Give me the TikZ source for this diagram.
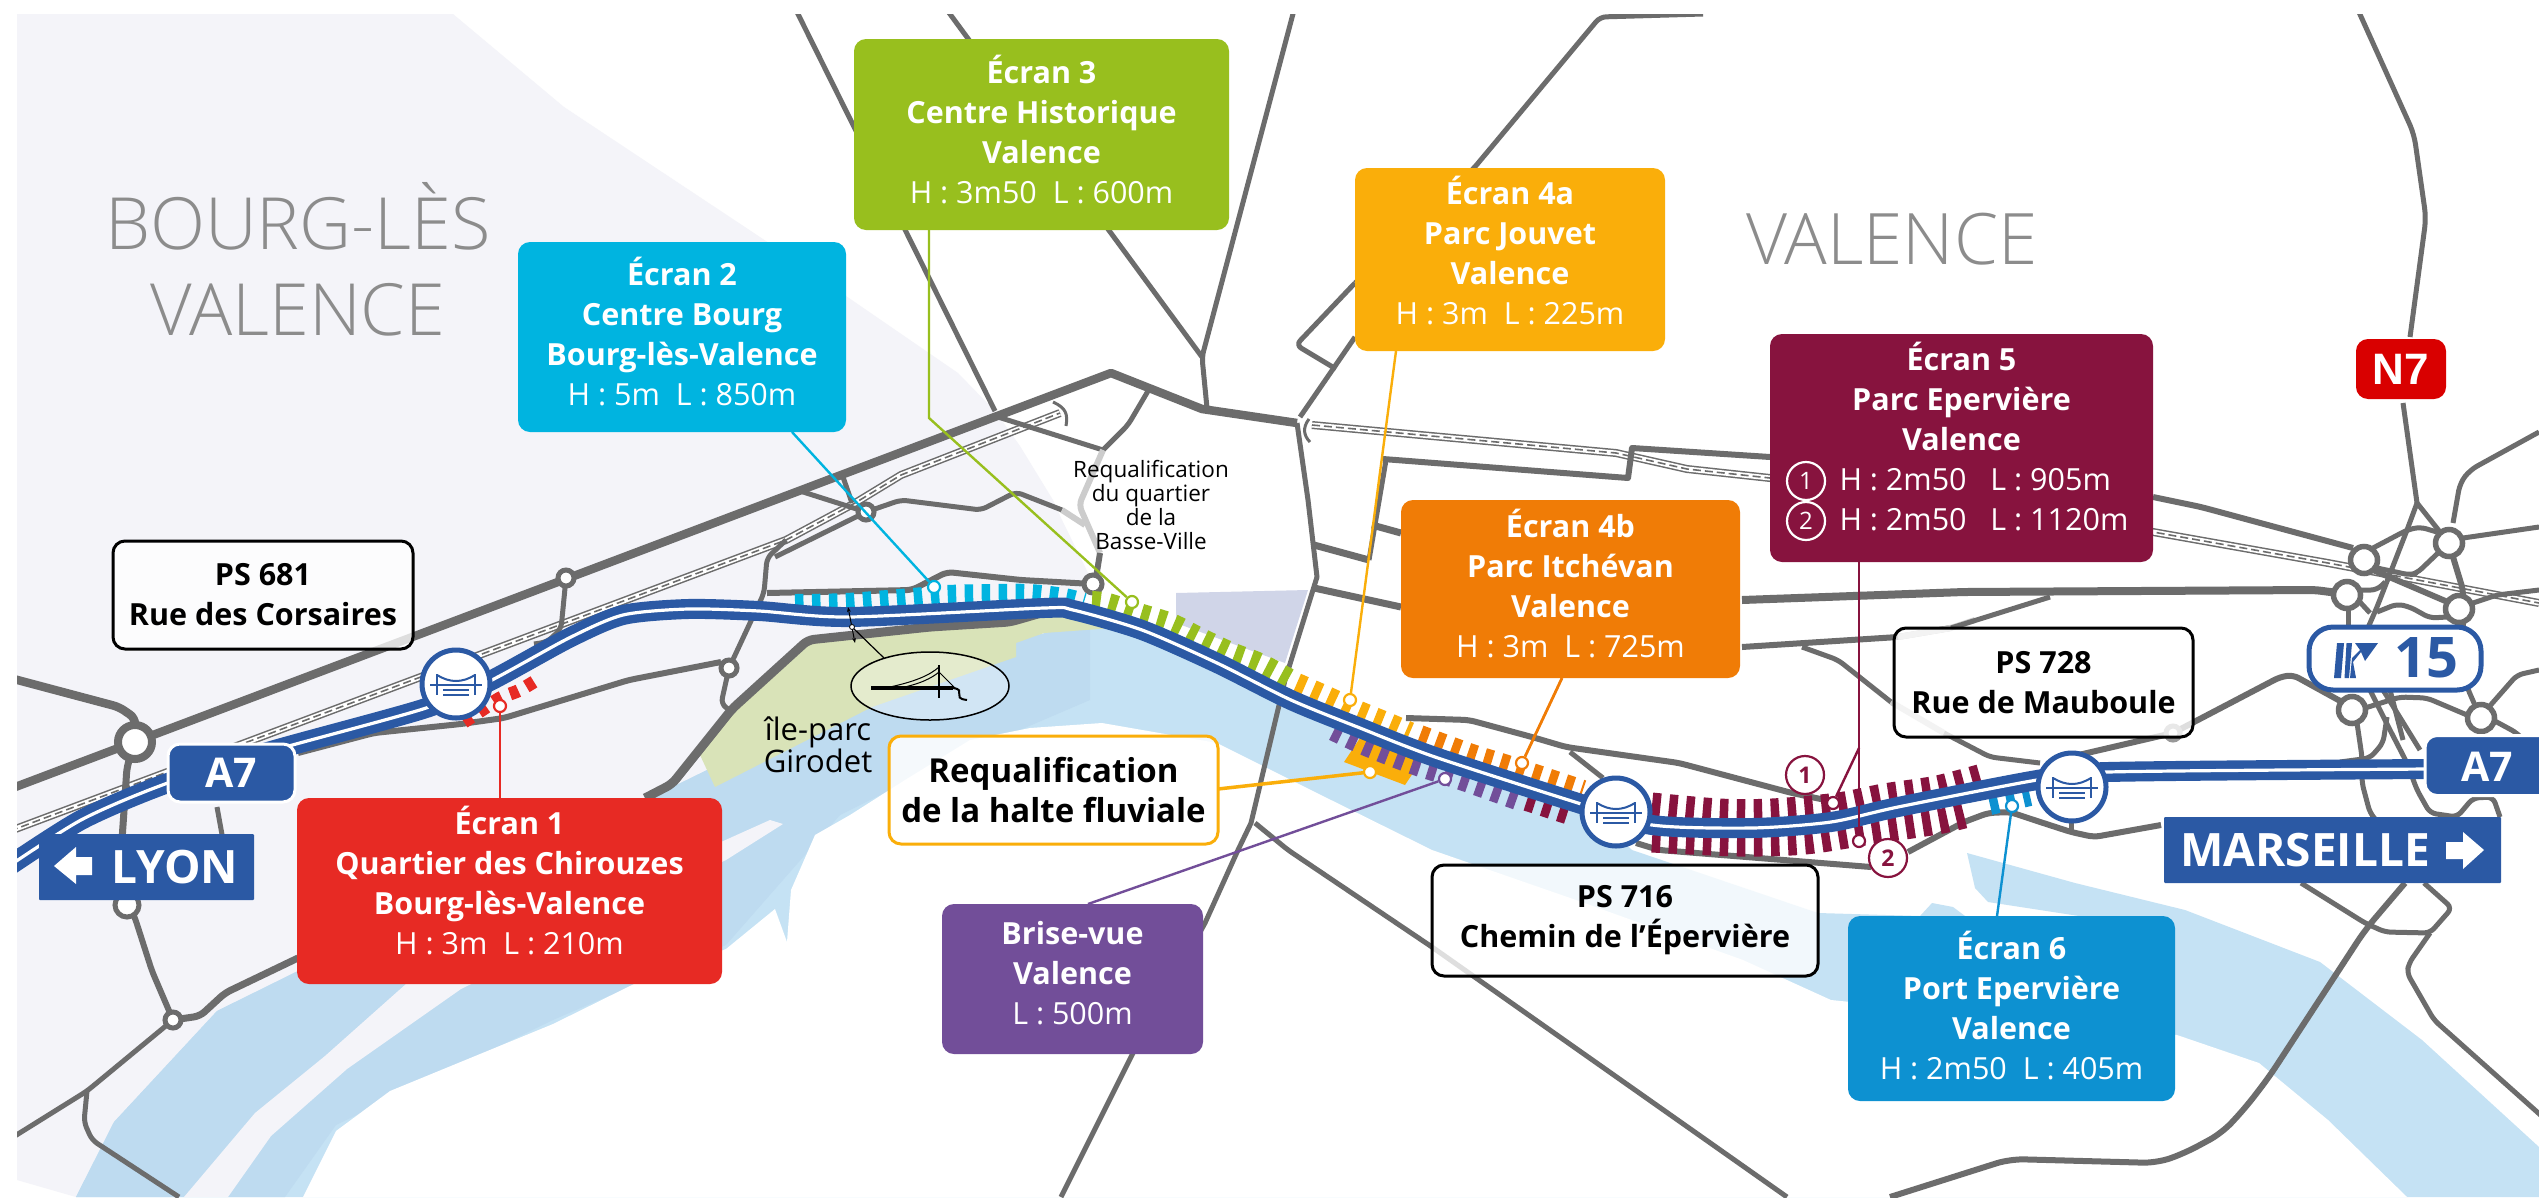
\documentclass[tikz,border=0pt]{standalone}
\usepackage{fontspec}
\setmainfont{Open Sans}
\newfontfamily\lightf{Open Sans Light}
\usetikzlibrary{arrows.meta,shapes.geometric}
\definecolor{cbg}{HTML}{F4F4F9}
\definecolor{criv}{HTML}{C5E2F4}
\definecolor{crivd}{HTML}{BEDBF0}
\definecolor{cpark}{HTML}{D9E3B8}
\definecolor{clav}{HTML}{D0D5E8}
\definecolor{cgray}{HTML}{6C6C6C}
\definecolor{cblue}{HTML}{2B59A4}
\definecolor{cred}{HTML}{E72A24}
\definecolor{ccyan}{HTML}{00B4E0}
\definecolor{cgreen}{HTML}{98BF1E}
\definecolor{camber}{HTML}{FAAE0A}
\definecolor{corange}{HTML}{F07C06}
\definecolor{cwine}{HTML}{87133E}
\definecolor{csix}{HTML}{0D91D1}
\definecolor{cpurple}{HTML}{724E99}
\definecolor{ctxt}{HTML}{8C8C8C}
\tikzset{
 road/.style={draw=cgray,line width=5,line join=round,rounded corners=6,fill=none},
 thick road/.style={road,line width=8.5},
 pale road/.style={road,draw=cgray!35,line width=6},
 ring/.style={circle,draw=cgray,fill=white,line width=5,inner sep=0,minimum size=16},
 rail/.style={draw=cgray,line width=8,postaction={draw=white,line width=5},postaction={draw=cgray,line width=1.6,dash pattern=on 8 off 4}},
 motorway/.style={draw=cblue,line width=20,postaction={draw=white,line width=3.2}},
 ticks/.style={line width=20,dash pattern=on 8.5 off 8.5},
 infobox/.style={rectangle,rounded corners=12,inner sep=0,text=white,align=center,font=\fontsize{30.5}{40}\selectfont},
 psbox/.style={rectangle,rounded corners=12,inner sep=0,draw=black,line width=3,fill=white,fill opacity=.78,text opacity=1,text=black,align=center,font=\bfseries\fontsize{30.5}{40}\selectfont},
 signbox/.style={rectangle,rounded corners=1,inner sep=0,fill=cblue,text=white,font=\bfseries},
 dot/.style={circle,draw=#1,fill=white,line width=2.2,inner sep=0,minimum size=12},
 conn/.style={draw=#1,line width=2.4},
 numc/.style={circle,draw=cwine,fill=white,text=cwine,line width=2.2,inner sep=0,minimum size=38,font=\fontsize{23}{23}\selectfont\bfseries},
 numw/.style={circle,draw=white,text=white,line width=2.2,inner sep=0,minimum size=38,font=\fontsize{24}{24}\selectfont},
 bridgec/.style={circle,draw=cblue,fill=white,line width=5,inner sep=0,minimum size=68},
}
\newcommand{\bridgeicon}[1]{%
 \begin{scope}[shift={(#1)},draw=cblue,line width=2]
  \draw (-19,-10) -- (-19,11); \draw (19,-10) -- (19,11);
  \draw (-19,-9) .. controls (-6,-1) and (6,-1) .. (19,-9);
  \draw (-26,1) -- (26,1);
  \draw (-13,6) -- (13,6); \draw (-13,11) -- (13,11);
 \end{scope}}
\begin{document}
\begin{tikzpicture}[x=1pt,y=-1pt]
\useasboundingbox (0,0) rectangle (2539,1197);
\fill[white] (0,0) rectangle (2539,1197);
\clip (17,14) rectangle (2539,1197);
% territory of Bourg
\fill[cbg] (17,14) -- (453,14) -- (564,107) -- (763,239) -- (846,296) -- (958,373) -- (995,411) -- (1020,446) -- (1053,500) -- (1062,520) -- (1093,583) -- (1079,610) -- (700,800) -- (76,1197) -- (17,1180) -- cycle;
% river
\fill[criv] (76,1197) -- (114,1122) -- (217,1011) -- (298,971) -- (650,798) -- (850,700) -- (1016,640) -- (1113,620) -- (1142,630) -- (1217,663) -- (1285,693) -- (1406,743) -- (1578,797) -- (1632,850) -- (1818,913) -- (1920,916) -- (1932,903) -- (1953,907) -- (1965,916) -- (2079,916) -- (1988,902) -- (1975,888) -- (1967,853) -- (2075,883) -- (2185,910) -- (2320,962) -- (2422,1040) -- (2539,1147) -- (2539,1197) -- cycle;
\fill[crivd] (76,1197) -- (114,1122) -- (217,1011) -- (298,971) -- (650,798) -- (850,700) -- (1016,640) -- (1090,622) -- (1090,700) -- (950,760) -- (840,815) -- (726,945) -- (553,1020) -- (336,1125) -- (285,1197) -- cycle;
% sliver island
\fill[cbg] (184,1197) -- (255,1113) -- (325,1056) -- (406,984) -- (721,842) -- (770,820) -- (783,824) -- (726,860) -- (461,989) -- (347,1069) -- (271,1136) -- (228,1197) -- cycle;
% white land
\fill[white] (303,1197) -- (336,1131) -- (390,1091) -- (553,1024) -- (634,984) -- (726,949) -- (775,909) -- (787,942) -- (791,890) -- (815,835) -- (850,815) -- (905,780) -- (970,740) -- (1030,728) -- (1102,723) -- (1217,743) -- (1331,800) -- (1432,850) -- (1576,900) -- (1743,960) -- (1831,1000) -- (2177,1035) -- (2259,1063) -- (2328,1120) -- (2407,1197) -- cycle;
% park and lavender patch
\fill[cpark] (700,755) -- (732,709) -- (808,640) -- (930,627) -- (1010,622) -- (1075,612) -- (1113,628) -- (1044,633) -- (1016,643) -- (1016,657) -- (872,707) -- (715,787) -- cycle;
\fill[clav] (1176,593) -- (1308,590) -- (1285,663) -- (1176,623) -- cycle;
% railways
\draw[rail] (10,831) -- (786,540) -- (855,503) -- (901,475) -- (1060,413);
\draw[cgray,line width=3] (1053,402) .. controls (1066,408) and (1068,414) .. (1066,426);
\draw[rail] (1312,425) -- (1616,453) -- (1687,469) -- (1770,478) -- (2153,532) -- (2328,563) -- (2539,603);
\draw[cgray,line width=3] (1309,419) .. controls (1302,428) and (1304,436) .. (1310,442);
% roads - left side
\draw[thick road,rounded corners=0] (10,789) -- (1111,373) -- (1202,409) -- (1297,423);
\draw[thick road] (10,678) -- (119,707) -- (135,718) -- (135,742);
\draw[road,line width=7] (135,742) -- (127,767) -- (122,840);
\draw[road,line width=6] (127,900) -- (135,918) -- (152,971) -- (173,1020);
\draw[thick road,line width=7] (173,1020) -- (200,1016) -- (225,993) -- (298,958);
\draw[road] (10,1139) -- (87,1091) -- (173,1020);
\draw[road] (87,1091) -- (84,1122) -- (92,1140) -- (179,1197);
\draw[road] (217,807) -- (223,840);
\draw[road,line width=6] (298,753) -- (374,733) -- (461,724) -- (504,718) -- (629,680) -- (721,662);
\draw[road] (729,668) -- (764,593) -- (767,558) -- (786,540);
\draw[road] (729,668) -- (721,704) -- (734,713);
\draw[road] (566,578) -- (561,629) -- (547,642) -- (534,644);
\draw[thick road,line width=9] (645,798) -- (672,784) -- (732,709) -- (808,640) -- (930,627) -- (1010,622) -- (1062,607);
\draw[road,line width=6] (767,593) -- (912,590) -- (947,572) -- (1021,580) -- (1093,584);
\draw[road] (800,491) -- (866,512);
\draw[road] (843,477) -- (852,503);
\draw[road] (866,512) -- (901,500) -- (981,510) -- (1016,492) -- (1062,510);
\draw[road] (866,512) -- (775,557);
\draw[road] (998,417) -- (1103,450);
\draw[road] (1148,391) -- (1128,425) -- (1103,450);
\draw[pale road] (1103,450) -- (1079,505) -- (1100,553);
\draw[pale road] (1062,510) -- (1085,525);
\draw[road,line width=6] (1100,553) -- (1095,584);
\draw[road] (796,10) -- (995,411);
\draw[road] (947,10) -- (1202,357);
\draw[road] (1294,10) -- (1202,357) -- (1207,408);
% centre
\draw[road,rounded corners=0] (1297,423) -- (1308,500) -- (1317,577) -- (1285,680) -- (1251,823) -- (1238,850) -- (1205,923) -- (1133,1053) -- (1061,1197);
\draw[road] (1255,823) -- (1288,850) -- (1432,947) -- (1787,1197);
\draw[road] (1703,14) -- (1600,17) -- (1474,168) -- (1355,283);
\draw[road] (1355,283) -- (1296,345) -- (1336,369);
\draw[road] (1355,337) -- (1300,417);
\draw[road,rounded corners=0] (1386,460) -- (1369,560);
\draw[thick road,line width=7,rounded corners=0] (1314,545) -- (1369,560);
\draw[thick road,line width=7,rounded corners=0] (1372,525) -- (1401,533);
\draw[thick road,line width=7,rounded corners=0] (1314,588) -- (1401,607);
\draw[road,line width=6,rounded corners=0] (1383,459) -- (1628,478) -- (1632,448) -- (1770,457);
\draw[road,line width=6] (2153,497) -- (2201,507) -- (2353,548);
\draw[thick road,line width=8] (1742,600) -- (1964,592) -- (2315,590) -- (2338,593);
\draw[road,line width=6] (1742,647) -- (1898,637) -- (1951,628);
\draw[pale road] (1898,637) -- (1951,628) -- (1975,620);
\draw[road] (1951,628) -- (2050,597);
\draw[road] (1802,647) -- (1838,660) -- (1891,702);
\draw[pale road] (1891,702) -- (1944,733);
\draw[road] (1944,733) -- (1990,757) -- (2040,763);
\draw[road,line width=6] (2057,760) -- (2173,733) -- (2280,677) -- (2293,675) -- (2342,702);
\draw[road,line width=6] (1406,718) -- (1469,720) -- (1532,737) -- (1566,747) -- (1679,763) -- (1792,793) -- (1835,802);
\draw[road] (1570,752) -- (1603,778);
\draw[road,line width=6] (1636,843) -- (1659,850) -- (1871,867);
\draw[road,line width=6] (1908,852) -- (1964,822) -- (1988,813) -- (2010,812) -- (2034,820) -- (2071,832) -- (2094,837) -- (2161,825);
\draw[road] (2071,820) -- (2071,832);
% right network
\draw[road,rounded corners=10] (2358,10) -- (2414,134) -- (2426,218) -- (2410,337);
\draw[road,rounded corners=3] (2403,403) -- (2417,503);
\draw[road,rounded corners=3] (2417,503) -- (2440,532);
\draw[road] (2417,503) -- (2407,530) -- (2377,607) -- (2367,630);
\draw[road] (2373,548) -- (2407,530) -- (2420,527) -- (2437,532);
\draw[road] (2438,553) -- (2417,573) -- (2410,575) -- (2377,568);
\draw[road] (2463,538) -- (2539,527);
\draw[road,rounded corners=8] (2453,523) -- (2460,483) -- (2470,470) -- (2539,432);
\draw[road,line width=6] (2453,557) -- (2463,590) -- (2463,605);
\draw[road,line width=6,rounded corners=3] (2373,570) -- (2450,603);
\draw[road] (2358,590) -- (2377,590) -- (2385,582);
\draw[road] (2358,600) -- (2370,613);
\draw[road] (2377,612) -- (2397,604) -- (2410,607) -- (2430,618) -- (2447,617);
\draw[road] (2473,603) -- (2497,595) -- (2539,590);
\draw[road] (2348,607) -- (2348,630);
\draw[road] (2463,620) -- (2467,687) -- (2477,710);
\draw[road] (2370,690) -- (2390,730) -- (2407,763) -- (2417,790) -- (2430,813) -- (2457,817) -- (2473,798) -- (2493,797) -- (2500,817);
\draw[road] (2383,690) -- (2420,750);
\draw[road] (2390,690) -- (2403,740);
\draw[road] (2387,717) -- (2383,743) -- (2370,758) -- (2340,762);
\draw[road] (2365,708) -- (2400,697) -- (2427,698) -- (2467,715);
\draw[road] (2357,723) -- (2362,757) -- (2362,783) -- (2370,813) -- (2376,820);
\draw[road] (2488,708) -- (2517,675) -- (2539,670);
\draw[road] (2493,720) -- (2517,733) -- (2525,742);
% below the Marseille sign
\draw[road] (2301,883) -- (2365,923) -- (2385,932) -- (2430,933) -- (2452,908) -- (2424,883);
\draw[road,line width=6,rounded corners=14] (2405,883) -- (2365,930) -- (2269,1077) -- (2246,1107) -- (2222,1133) -- (2185,1153) -- (2157,1163) -- (2010,1159) -- (1890,1197);
\draw[road] (2430,933) -- (2409,963) -- (2407,973) -- (2434,1020) -- (2545,1119);
% junction rings
\node[ring,line width=8,minimum size=34] (j0) at (135,742) {};
\node[ring] (j1) at (173,1020) {};
\node[ring] (j2) at (566,578) {};
\node[ring] (j3) at (729,668) {};
\node[ring,minimum size=18] (j4) at (1093,584) {};
\node[ring] (j5) at (866,512) {};
\node[ring,draw=cgray!70,minimum size=14] (j6) at (2173,733) {};
\node[ring,line width=5.5,minimum size=27] (j7) at (2364,560) {};
\node[ring,line width=5.5,minimum size=27] (j8) at (2449,543) {};
\node[ring,line width=5.5,minimum size=27] (j9) at (2347,595) {};
\node[ring,line width=5.5,minimum size=27] (j10) at (2459,609) {};
\node[ring,line width=5.5,minimum size=27] (j11) at (2352,710) {};
\node[ring,line width=5.5,minimum size=27] (j12) at (2481,718) {};
\node[ring,minimum size=24] (j13) at (127,905) {};
% halte
\fill[camber] (1362,735) -- (1344,762) -- (1405,785) -- (1425,755) -- cycle;
% screens
\draw[ticks,cred,line width=13,dash pattern=on 9 off 9] plot[smooth] coordinates {(464,722) (482,710) (500,698) (520,690) (540,678)};
\draw[ticks,ccyan,line width=18] plot[smooth] coordinates {(795,603) (846,602) (912,597) (947,594) (996,593) (1030,593) (1064,597) (1084,602)};
\draw[ticks,cgreen] plot[smooth] coordinates {(1092,601) (1108,603) (1139,613) (1171,623) (1199,637) (1231,652) (1260,663) (1292,680)};
\draw[ticks,camber] plot[smooth] coordinates {(1297,683) (1329,697) (1357,710) (1389,723) (1410,732)};
\draw[ticks,corange] plot[smooth] coordinates {(1420,735) (1469,753) (1501,763) (1532,773) (1583,790)};
\draw[ticks,cpurple,line width=22] plot[smooth] coordinates {(1334,730) (1366,745) (1412,763) (1458,778) (1520,800)};
\draw[ticks,cwine,line width=22] plot[smooth] coordinates {(1527,800) (1573,815)};
\draw[ticks,cwine,line width=25] plot[smooth] coordinates {(1652,805) (1719,811) (1772,811) (1838,805) (1884,796) (1937,788) (1986,775)};
\draw[ticks,cwine,line width=25] plot[smooth] coordinates {(1652,840) (1739,844) (1805,842) (1871,832) (1937,822) (1972,814)};
\draw[ticks,csix] plot[smooth] coordinates {(1990,805) (2030,796)};
% motorway
\draw[motorway] plot[smooth,tension=.45] coordinates {(0,872) (81,820) (165,784) (271,751) (423,709) (488,682) (569,638) (623,615) (688,609) (759,611) (849,617) (1044,608) (1073,610) (1142,630) (1217,663) (1291,700) (1360,728) (1435,757) (1578,803) (1652,825) (1752,828) (1831,822) (1898,807) (2037,780) (2108,772) (2430,769)};
% ellipse detail
\node[ellipse,draw=black,line width=1.5,fill=white,fill opacity=.3,draw opacity=1,inner sep=0,minimum width=158,minimum height=68] (lens) at (930,686) {};
\draw[black,line width=3.5] (871,688) -- (953,688);
\draw[black,line width=2.5] (939,665) -- (939,698);
\draw[black,line width=1] (885,688) .. controls (915,682) and (930,675) .. (939,667);
\draw[black,line width=1] (900,688) .. controls (920,684) and (932,678) .. (939,672);
\draw[black,line width=1] (939,672) -- (955,688);
\draw[black,line width=2] (953,688) .. controls (968,690) and (950,698) .. (967,700);
\coordinate (lenstop) at (884,658);
\draw[black,line width=1.2] (lenstop) -- (852,627);
\draw[black,line width=1,{Stealth[length=5]}-{Stealth[length=5]}] (848,607) -- (855,643);
\node[circle,draw=black,fill=white,line width=.8,inner sep=0,minimum size=5] (lensdot) at (852,627) {};
% bridges
\node[bridgec] (b0) at (456,684) {};
\node[bridgec] (b1) at (1616,812) {};
\node[bridgec] (b2) at (2072,787) {};
\bridgeicon{456,684}
\bridgeicon{1616,812}
\bridgeicon{2072,787}
% texts
\node[text=ctxt,align=center,font=\lightf\fontsize{72}{86}\selectfont] (tb) at (298,259) {BOURG-LÈS\\VALENCE};
\node[text=ctxt,font=\lightf\fontsize{71}{90}\selectfont] (tv) at (1892,239) {VALENCE};
\node[text=black,align=center,font=\fontsize{22.5}{24}\selectfont] (tq) at (1151,505) {Requalification\\du quartier\\de la\\Basse-Ville};
\node[text=black,align=center,font=\fontsize{31}{32}\selectfont] (tg) at (818,745) {île-parc\\Girodet};
% boxes
\node[infobox,fill=cred,text depth=21,minimum width=425,minimum height=186] (e1) at (509.5,891) {\textbf{Écran 1}\\\textbf{Quartier des Chirouzes}\\\textbf{Bourg-lès-Valence}\\H : 3m\ \ L : 210m};
\node[infobox,fill=ccyan,text depth=11,minimum width=328,minimum height=190] (e2) at (682,337) {\textbf{Écran 2}\\\textbf{Centre Bourg}\\\textbf{Bourg-lès-Valence}\\H : 5m\ \ L : 850m};
\node[infobox,fill=cgreen,text depth=11,minimum width=375,minimum height=191] (e3) at (1041.5,134.5) {\textbf{Écran 3}\\\textbf{Centre Historique}\\\textbf{Valence}\\H : 3m50\ \ L : 600m};
\node[infobox,fill=camber,text depth=19,minimum width=310,minimum height=183] (e4a) at (1510,259.5) {\textbf{Écran 4a}\\\textbf{Parc Jouvet}\\\textbf{Valence}\\H : 3m\ \ L : 225m};
\node[infobox,fill=corange,text depth=11,minimum width=339,minimum height=178] (e4b) at (1570.5,589) {\textbf{Écran 4b}\\\textbf{Parc Itchévan}\\\textbf{Valence}\\H : 3m\ \ L : 725m};
\node[infobox,fill=cwine,text depth=23,minimum width=383,minimum height=228] (e5) at (1961.5,448) {\textbf{Écran 5}\\\textbf{Parc Epervière}\\\textbf{Valence}\\\makebox[310pt][l]{\hspace*{33pt}H : 2m50\ \ \ L : 905m}\\\makebox[310pt][l]{\hspace*{33pt}H : 2m50\ \ \ L : 1120m}};
\node[numw] (n1w) at (1806,481) {1};
\node[numw] (n2w) at (1806,521) {2};
\node[infobox,fill=csix,text depth=6,minimum width=327,minimum height=185] (e6) at (2011.5,1008.5) {\textbf{Écran 6}\\\textbf{Port Epervière}\\\textbf{Valence}\\H : 2m50\ \ L : 405m};
\node[infobox,fill=cpurple,text depth=12,minimum width=261,minimum height=150] (bv) at (1072.5,979) {\textbf{Brise-vue}\\\textbf{Valence}\\L : 500m};
\node[psbox,minimum width=300,minimum height=108] (p681) at (263,595) {PS 681\\Rue des Corsaires};
\node[psbox,minimum width=386,minimum height=111] (p716) at (1625,920.5) {PS 716\\Chemin de l’Épervière};
\node[psbox,minimum width=299,minimum height=109] (p728) at (2043.5,682.5) {PS 728\\Rue de Mauboule};
\node[psbox,draw=camber,fill opacity=.85,font=\bfseries\fontsize{33}{40}\selectfont,minimum width=329,minimum height=108] (halte) at (1053.5,790) {Requalification\\de la halte fluviale};
% connectors
\node[dot=cred] (d1) at (500,706) {};
\draw[conn=cred] (d1) -- (d1 |- e1.north);
\node[dot=ccyan] (d2) at (934,587) {};
\coordinate (c2) at (792,432);
\draw[conn=ccyan] (c2) -- (d2);
\node[dot=cgreen] (d3) at (1132,602) {};
\coordinate (c3a) at (929,230); \coordinate (c3b) at (929,418);
\draw[conn=cgreen] (c3a) -- (c3b) -- (d3);
\node[dot=camber] (d4a) at (1350,700) {};
\coordinate (c4a) at (1396,351);
\draw[conn=camber] (c4a) -- (d4a);
\node[dot=corange] (d4b) at (1522,763) {};
\coordinate (c4b) at (1562,678);
\draw[conn=corange,line width=2.8] (c4b) -- (d4b);
\node[dot=cwine] (d5b) at (1859,841) {};
\node[dot=cwine] (d5a) at (1833,803) {};
\coordinate (c5) at (1859,562); \coordinate (c5m) at (1859,748);
\draw[conn=cwine] (c5) -- (d5b);
\draw[conn=cwine] (c5m) -- (d5a);
\node[numc] (n1) at (1805,775) {1};
\node[numc] (n2) at (1888,858) {2};
\node[dot=csix] (d6) at (2012,806) {};
\coordinate (c6) at (1997,916);
\draw[conn=csix] (c6) -- (d6);
\node[dot=cpurple] (d7) at (1445,779) {};
\coordinate (c7) at (1088,904);
\draw[conn=cpurple] (c7) -- (d7);
\node[dot=camber] (d8) at (1370,772) {};
\coordinate (c8) at (1218,789);
\draw[conn=camber,line width=3.5] (c8) -- (d8);
% signs
\node[signbox,minimum width=215,minimum height=66] (lyon) at (146.5,867) {};
\fill[white] (54,866) -- (76,847) -- (76,857) -- (92,857) -- (92,875) -- (76,875) -- (76,884) -- cycle;
\node[text=white,font=\bfseries\fontsize{46}{46}\selectfont] (tlyon) at (175,867) {LYON};
\node[signbox,minimum width=337,minimum height=66] (mars) at (2332.5,850) {};
\fill[white] (2484,850) -- (2463,832) -- (2463,842) -- (2446,842) -- (2446,859) -- (2463,859) -- (2463,869) -- cycle;
\node[text=white,font=\bfseries\fontsize{46}{46}\selectfont] (tmars) at (2305,850) {MARSEILLE};
\node[signbox,rounded corners=12,draw=white,line width=3,font=\bfseries\fontsize{41}{41}\selectfont,minimum width=127,minimum height=58] (a7l) at (231.5,773) {A7};
\node[signbox,rounded corners=12,draw=white,line width=3,minimum width=146,minimum height=60] (a7r) at (2498,765.5) {};
\node[text=white,font=\bfseries\fontsize{41}{41}\selectfont] (ta7) at (2487,767) {A7};
\node[rectangle,rounded corners=12,fill=red!85!black,text=white,inner sep=0,minimum width=90,minimum height=60,font=\fontsize{44}{44}\selectfont] (n7) at (2401,369) {\fontspec{Liberation Sans}\bfseries N7};
\node[rectangle,rounded corners=24,draw=cblue,fill=white,line width=5,inner sep=0,minimum width=172,minimum height=63] (x15) at (2395,658.5) {};
\node[text=cblue,font=\bfseries\fontsize{56}{56}\selectfont] (t15) at (2426,658) {15};
\fill[cblue] (2337,643) -- (2344,643) -- (2341,678) -- (2334,678) -- cycle;
\fill[cblue] (2346.5,643) -- (2352,643) -- (2349,678) -- (2344.5,678) -- cycle;
\fill[cblue] (2350,678) -- (2356,678) -- (2353,662) -- (2361,652) -- (2365,661) -- (2378,643) -- (2355,643) -- (2360,650) -- (2352,658) -- cycle;
\end{tikzpicture}
\end{document}
